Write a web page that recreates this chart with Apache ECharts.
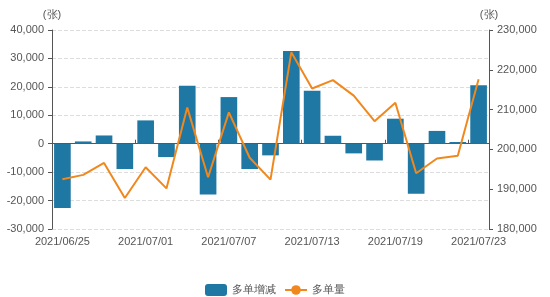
<!DOCTYPE html>
<html><head><meta charset="utf-8">
<script src="https://cdn.jsdelivr.net/npm/echarts@6/dist/echarts.min.js"></script>
<style>html,body{margin:0;padding:0;background:#fff}#c{width:550px;height:297px}</style>
</head><body><div id="c"></div>
<script>
const categories = ['2021/06/25','2021/06/28','2021/06/29','2021/06/30','2021/07/01','2021/07/02','2021/07/05','2021/07/06','2021/07/07','2021/07/08','2021/07/09','2021/07/12','2021/07/13','2021/07/14','2021/07/15','2021/07/16','2021/07/19','2021/07/20','2021/07/21','2021/07/22','2021/07/23'];
const changeValues = [-22600, 800, 2900, -8900, 8200, -4700, 20400, -17900, 16400, -8900, -4100, 32600, 18600, 2800, -3400, -5900, 8800, -17600, 4500, 600, 20600];
const totalValues = [192500, 193600, 196600, 187800, 195500, 190200, 210500, 193000, 209300, 197900, 192400, 224400, 215300, 217400, 213500, 207100, 211700, 194000, 197700, 198400, 217600];
const seriesNames = ['多单增减', '多单量'];
const unitName = '(张)';

const fmt = v => Number(v).toLocaleString('en-US');
const chart = echarts.init(document.getElementById('c'));
const axisStyle = {
  axisLine: {show: true, lineStyle: {color: '#555'}},
  axisTick: {show: true, length: 4, lineStyle: {color: '#555'}},
  axisLabel: {color: '#555', fontSize: 11, formatter: fmt},
  nameTextStyle: {color: '#555', fontSize: 11}
};
chart.setOption({
  animation: false,
  grid: {left: 52, right: 61, top: 30, bottom: 68, containLabel: false, outerBoundsMode: 'none'},
  legend: {
    top: 279, left: 200, itemWidth: 22, itemHeight: 12, itemGap: 8,
    textStyle: {color: '#555', fontSize: 11},
    data: [{name: seriesNames[0], icon: 'roundRect'}, {name: seriesNames[1]}]
  },
  xAxis: [
    {
      type: 'category', data: categories, position: 'bottom',
      axisLine: {show: false, onZero: false},
      axisTick: {show: false},
      axisLabel: {interval: 3, color: '#555', fontSize: 11, margin: 7}
    },
    {
      type: 'category', data: categories,
      axisLine: {show: true, onZero: true, lineStyle: {color: '#555'}},
      axisTick: {show: true, interval: 3, length: 4, lineStyle: {color: '#555'}},
      axisLabel: {show: false}
    }
  ],
  yAxis: [
    Object.assign({type: 'value', min: -30000, max: 40000, interval: 10000, name: unitName, nameGap: 10,
      splitLine: {show: true, lineStyle: {color: '#ddd', type: 'dashed'}}}, axisStyle),
    Object.assign({type: 'value', min: 180000, max: 230000, interval: 10000, name: unitName, nameGap: 10,
      splitLine: {show: false}}, axisStyle)
  ],
  series: [
    {name: seriesNames[0], type: 'bar', data: changeValues, xAxisIndex: 0, yAxisIndex: 0, barCategoryGap: '20%',
      itemStyle: {color: '#1f77a3'}},
    {name: seriesNames[1], type: 'line', data: totalValues, xAxisIndex: 0, yAxisIndex: 1, showSymbol: false, symbol: 'circle', symbolSize: 8,
      lineStyle: {color: '#f0881e', width: 2}, itemStyle: {color: '#f0881e'}}
  ]
});
</script></body></html>
